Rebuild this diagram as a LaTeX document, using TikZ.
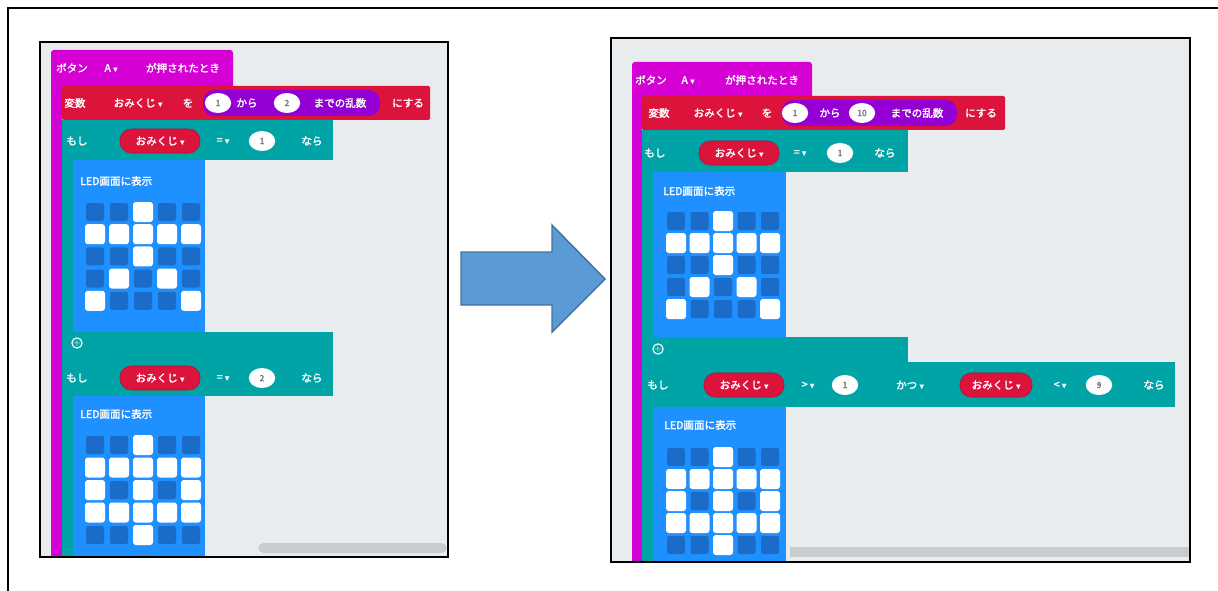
\documentclass[tikz,border=0pt]{standalone}
\usepackage{fontspec}
\usetikzlibrary{shapes.geometric}
\newfontfamily\jp[FakeBold=2]{Noto Sans CJK JP}
\newfontfamily\sym[FakeBold=1]{DejaVu Sans}
\newcommand{\dd}{{\sym\fontsize{6}{6}\selectfont ▾}}

\definecolor{hatpurple}{HTML}{D400D4}
\definecolor{varred}{HTML}{DC143C}
\definecolor{mathpurple}{HTML}{9400D3}
\definecolor{logicteal}{HTML}{00A4A6}
\definecolor{basicblue}{HTML}{1E90FF}
\definecolor{ledoff}{HTML}{1A6CC8}
\definecolor{workspace}{HTML}{E9ECEF}
\definecolor{scrollgrey}{HTML}{C9CCCF}
\definecolor{arrowfill}{HTML}{5B9BD5}
\definecolor{arrowline}{HTML}{41719C}

\tikzset{
  lbl/.style={text=white, font=\jp\fontsize{7.5}{8}\selectfont, inner sep=0pt},
  num/.style={ellipse, fill=white, minimum width=0.66cm, minimum height=0.5cm, inner sep=0pt,
    text=black!55, font=\jp\fontsize{6}{6}\selectfont},
  pill/.style={fill=varred, draw=varred!80!black, rounded corners=8pt, minimum height=0.6cm,
    inner sep=0pt, text=white, font=\jp\fontsize{7.5}{8}\selectfont},
  screen/.style={fill=workspace, draw=black, line width=1.4pt}
}

% 5x5 LED grid: first cell centre, pitch x, pitch y, lit cells as col/row
\newcommand{\ledgrid}[5]{%
  \foreach \c in {0,...,4}
    \foreach \r in {0,...,4}
      \fill[ledoff, rounded corners=1.5pt] ({#1+\c*#3-9},{#2+\r*#4-9}) rectangle ++(18,18);
  \foreach \c/\r in #5
    \fill[white, rounded corners=2pt] ({#1+\c*#3-10},{#2+\r*#4-10}) rectangle ++(20,20);
}
\newcommand{\starcells}{2/0,0/1,1/1,2/1,3/1,4/1,2/2,1/3,3/3,0/4,4/4}
\newcommand{\crosscells}{2/0,0/1,1/1,2/1,3/1,4/1,0/2,2/2,4/2,0/3,1/3,2/3,3/3,4/3,2/4}

\begin{document}
\begin{tikzpicture}[x=0.025cm, y=-0.025cm]
  \useasboundingbox (0,0) rectangle (1218,591);
  \draw[line width=2.1pt] (1218,8) -- (8,8) -- (8,591);

  % ---- first program ----
  \draw[screen] (40,42) rectangle (448,557);
  \fill[scrollgrey, rounded corners=4pt] (258,543) rectangle (447,553);
  \fill[hatpurple, rounded corners=2pt] (51,50) rectangle (233,90);
  \fill[hatpurple] (51,86) rectangle (62,556);
  \fill[varred, rounded corners=1pt] (62,86) rectangle (430,120);
  \fill[mathpurple, rounded corners=8pt] (203,90) rectangle (380,116);
  \fill[logicteal] (62,120) rectangle (333,160);
  \fill[logicteal] (62,160) rectangle (73,556);
  \fill[basicblue] (73,160) rectangle (205,332);
  \fill[logicteal] (62,332) rectangle (333,396);
  \fill[basicblue] (73,396) rectangle (205,556);

  \node[lbl] (h1a) at (72,68) {ボタン};
  \node[lbl] (h1b) at (111,68) {A \dd};
  \node[lbl] (h1c) at (183,68) {が押されたとき};
  \node[lbl] (v1a) at (75,103) {変数};
  \node[lbl] (v1b) at (138,103) {おみくじ \dd};
  \node[lbl] (v1c) at (188,103) {を};
  \node[num] (v1d) at (218,103) {1};
  \node[lbl] (v1e) at (247,103) {から};
  \node[num] (v1f) at (287,103) {2};
  \node[lbl] (v1g) at (340,103) {までの乱数};
  \node[lbl] (v1h) at (408,103) {にする};

  \node[lbl] (i1a) at (77,141) {もし};
  \node[pill, minimum width=2cm] (i1b) at (160,141) {おみくじ \dd};
  \node[lbl] (i1c) at (223,141) {= \dd};
  \node[num] (i1d) at (262,141) {1};
  \node[lbl] (i1e) at (312,141) {なら};
  \node[lbl, anchor=west] (l1a) at (80,181) {LED画面に表示};
  \ledgrid{95}{212}{24}{22.2}{\starcells}

  \node[circle, draw=white, line width=0.8pt, minimum size=0.25cm, inner sep=0pt,
    text=white, font=\fontsize{6}{6}\selectfont] (p1) at (77,343) {+};
  \node[lbl] (i2a) at (77,378) {もし};
  \node[pill, minimum width=2cm] (i2b) at (160,378) {おみくじ \dd};
  \node[lbl] (i2c) at (223,378) {= \dd};
  \node[num] (i2d) at (262,378) {2};
  \node[lbl] (i2e) at (312,378) {なら};
  \node[lbl, anchor=west] (l2a) at (80,414) {LED画面に表示};
  \ledgrid{95}{445}{24}{22.5}{\crosscells}

  % ---- arrow ----
  \draw[fill=arrowfill, draw=arrowline, line width=1pt, line join=miter]
    (461,252) -- (552,252) -- (552,225) -- (605,279) -- (552,332) -- (552,305) -- (461,305) -- cycle;

  % ---- second program ----
  \draw[screen] (611,38) rectangle (1190,562);
  \fill[scrollgrey] (790,547) rectangle (1189,557);
  \fill[hatpurple, rounded corners=2pt] (632,62) rectangle (812,100);
  \fill[hatpurple] (632,96) rectangle (642,561);
  \fill[varred, rounded corners=1pt] (642,96) rectangle (1005,130);
  \fill[mathpurple, rounded corners=8pt] (782,100) rectangle (957,126);
  \fill[logicteal] (642,130) rectangle (908,172);
  \fill[logicteal] (642,172) rectangle (653,561);
  \fill[basicblue] (653,172) rectangle (786,337);
  \fill[logicteal] (642,337) rectangle (908,364);
  \fill[logicteal] (642,362) rectangle (1175,407);
  \fill[basicblue] (653,407) rectangle (786,561);

  \node[lbl] (h2a) at (651,80) {ボタン};
  \node[lbl] (h2b) at (688,80) {A \dd};
  \node[lbl] (h2c) at (762,80) {が押されたとき};
  \node[lbl] (v2a) at (659,113) {変数};
  \node[lbl] (v2b) at (718,113) {おみくじ \dd};
  \node[lbl] (v2c) at (767,113) {を};
  \node[num] (v2d) at (795,113) {1};
  \node[lbl] (v2e) at (830,113) {から};
  \node[num] (v2f) at (862,113) {10};
  \node[lbl] (v2g) at (917,113) {までの乱数};
  \node[lbl] (v2h) at (981,113) {にする};

  \node[lbl] (j1a) at (655,153) {もし};
  \node[pill, minimum width=2cm] (j1b) at (739,153) {おみくじ \dd};
  \node[lbl] (j1c) at (800,153) {= \dd};
  \node[num] (j1d) at (840,153) {1};
  \node[lbl] (j1e) at (885,153) {なら};
  \node[lbl, anchor=west] (m1a) at (663,191) {LED画面に表示};
  \ledgrid{676}{221}{23.5}{22}{\starcells}

  \node[circle, draw=white, line width=0.8pt, minimum size=0.25cm, inner sep=0pt,
    text=white, font=\fontsize{6}{6}\selectfont] (p2) at (658,349) {+};
  \node[lbl] (j2a) at (658,385) {もし};
  \node[pill, minimum width=2cm] (j2b) at (744,385) {おみくじ \dd};
  \node[lbl] (j2c) at (808,385) {> \dd};
  \node[num] (j2d) at (845,385) {1};
  \node[lbl] (j2e) at (910,385) {かつ \dd};
  \node[pill, minimum width=1.8cm] (j2f) at (996,385) {おみくじ \dd};
  \node[lbl] (j2g) at (1060,385) {< \dd};
  \node[num] (j2h) at (1099,385) {9};
  \node[lbl] (j2i) at (1154,385) {なら};
  \node[lbl, anchor=west] (m2a) at (664,425) {LED画面に表示};
  \ledgrid{676}{457}{23.5}{22}{\crosscells}
\end{tikzpicture}
\end{document}
